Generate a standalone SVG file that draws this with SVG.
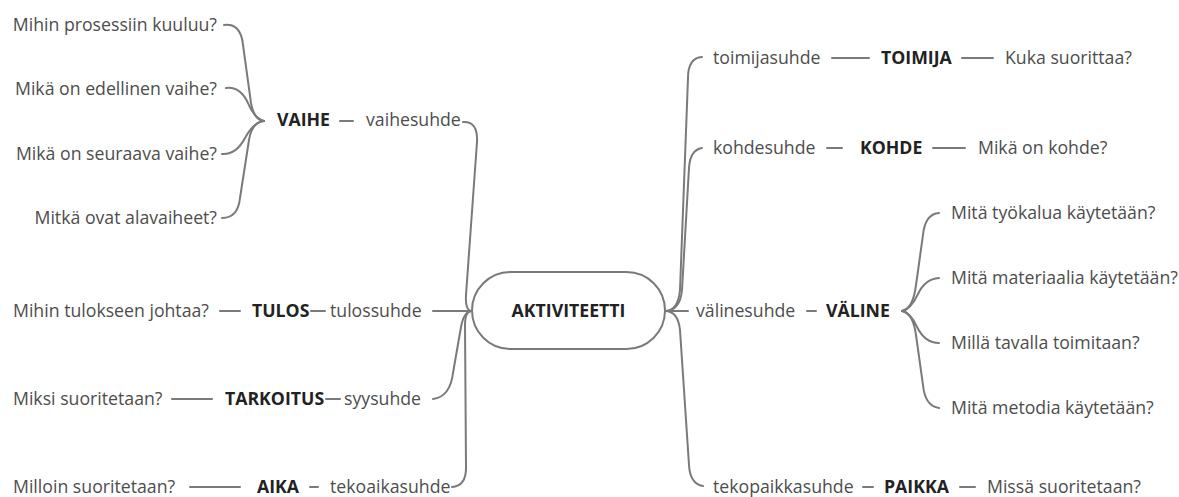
<svg xmlns="http://www.w3.org/2000/svg" width="1179" height="497" viewBox="0 0 1179 497">
<style>
text{font-family:"Open Sans","Noto Sans","Liberation Sans",sans-serif;font-size:17.7px;fill:#4d4d4d}
.b{font-weight:bold;fill:#222}
.e{text-anchor:end}
.m{text-anchor:middle}
#connectors path,#connectors line{fill:none;stroke:#7a7a7a;stroke-width:2;stroke-linecap:round}
</style>
<rect width="1179" height="497" fill="#fff"/>
<g id="connectors">
<path d="M463 122 Q478 121 477 142 L466 295 Q465 311 472 311"/>
<path d="M433 311 L472 311"/>
<path d="M433 399 Q450 397 453 373 L461 327 Q464 311 472 311"/>
<path d="M452 487 Q466 486 466 468 L465 325 Q465 311 472 311"/>
<path d="M224 25 Q241 23 243 45 L251 103 Q254 120 264 121"/>
<path d="M226 88 Q240 86 248 103 Q254 118 264 121"/>
<path d="M222 154 Q236 155 245 138 Q254 122 264 121"/>
<path d="M222 218 Q238 218 240 198 L249 140 Q252 122 264 121"/>
<path d="M702 57 Q688 58 688 78 L680 290 Q678 311 665 311"/>
<path d="M702 148 Q690 150 689 168 L682 290 Q680 311 665 311"/>
<path d="M665 311 L688 311"/>
<path d="M703 486 Q690 484 689 465 L680 330 Q678 311 665 311"/>
<path d="M939 213 Q925 214 923 235 L916 285 Q913 309 902 311"/>
<path d="M939 278 Q925 279 918 294 Q911 309 902 311"/>
<path d="M939 343 Q925 343 917 327 Q911 313 902 311"/>
<path d="M939 408 Q925 406 923 385 L916 335 Q913 313 902 311"/>
<line x1="340" y1="121" x2="353" y2="121"/>
<line x1="220" y1="311" x2="240" y2="311"/>
<line x1="311" y1="311" x2="325" y2="311"/>
<line x1="172" y1="399" x2="212" y2="399"/>
<line x1="326" y1="399" x2="340" y2="399"/>
<line x1="190" y1="487" x2="240" y2="487"/>
<line x1="310" y1="487" x2="318" y2="487"/>
<line x1="832" y1="58" x2="869" y2="58"/>
<line x1="962" y1="58" x2="993" y2="58"/>
<line x1="827" y1="148" x2="842" y2="148"/>
<line x1="933" y1="148" x2="965" y2="148"/>
<line x1="807" y1="311" x2="816" y2="311"/>
<line x1="863" y1="487" x2="873" y2="487"/>
<line x1="960" y1="487" x2="975" y2="487"/>
</g>
<g id="aktiviteetti">
<rect x="472" y="272" width="193" height="77" rx="38.5" fill="#fff" stroke="#7a7a7a" stroke-width="2"/>
<text class="b m" x="568.5" y="317">AKTIVITEETTI</text>
</g>
<g id="vaihe"><text class="b" x="277" y="126">VAIHE</text><text x="366" y="126">vaihesuhde</text></g>
<g id="q-prosessi"><text class="e" x="217" y="31">Mihin prosessiin kuuluu?</text></g>
<g id="q-edellinen"><text class="e" x="217" y="95">Mikä on edellinen vaihe?</text></g>
<g id="q-seuraava"><text class="e" x="217" y="160">Mikä on seuraava vaihe?</text></g>
<g id="q-alavaiheet"><text class="e" x="217" y="224">Mitkä ovat alavaiheet?</text></g>
<g id="tulos"><text x="13" y="317">Mihin tulokseen johtaa?</text><text class="b" x="252" y="317">TULOS</text><text x="330" y="317">tulossuhde</text></g>
<g id="tarkoitus"><text x="13" y="405">Miksi suoritetaan?</text><text class="b" x="225" y="405">TARKOITUS</text><text x="344" y="405">syysuhde</text></g>
<g id="aika"><text x="13" y="493">Milloin suoritetaan?</text><text class="b" x="257" y="493">AIKA</text><text x="330" y="493">tekoaikasuhde</text></g>
<g id="toimija"><text x="713" y="64">toimijasuhde</text><text class="b" x="881" y="64">TOIMIJA</text><text x="1005" y="64">Kuka suorittaa?</text></g>
<g id="kohde"><text x="713" y="154">kohdesuhde</text><text class="b" x="860" y="154">KOHDE</text><text x="978" y="154">Mikä on kohde?</text></g>
<g id="valine"><text x="696" y="317">välinesuhde</text><text class="b" x="826" y="317">VÄLINE</text></g>
<g id="q-tyokalu"><text x="951" y="219">Mitä työkalua käytetään?</text></g>
<g id="q-materiaali"><text x="951" y="284">Mitä materiaalia käytetään?</text></g>
<g id="q-tapa"><text x="951" y="349">Millä tavalla toimitaan?</text></g>
<g id="q-metodi"><text x="951" y="414">Mitä metodia käytetään?</text></g>
<g id="paikka"><text x="713" y="493">tekopaikkasuhde</text><text class="b" x="884" y="493">PAIKKA</text><text x="987" y="493">Missä suoritetaan?</text></g>
</svg>
